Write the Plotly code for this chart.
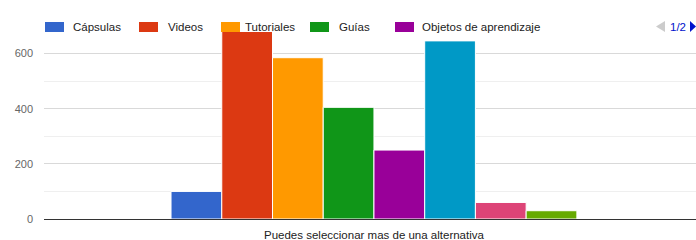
import plotly.graph_objects as go

category = "Puedes seleccionar mas de una alternativa"
series_names = ["Cápsulas", "Videos", "Tutoriales", "Guías", "Objetos de aprendizaje",
                "Serie 6", "Serie 7", "Serie 8"]
series_values = [100, 680, 585, 405, 250, 646, 60, 30]
series_colors = ["#3366cc", "#dc3912", "#ff9900", "#109618", "#990099",
                 "#0099c6", "#dd4477", "#66aa00"]
legend_on_page = 5  # legend page 1/2 shows the first five series
y_ticks = [0, 200, 400, 600]
y_minor = [100, 300, 500, 700]

W, H = 696, 240
L, R, T = 44, 0, 26
B = H - 219
pw, ph = W - L - R, H - T - B

def px_x(p):
    return (p - L) / pw

def px_y(p):
    return (H - B - p) / ph

fig = go.Figure()
for name, val, col in zip(series_names, series_values, series_colors):
    fig.add_trace(go.Bar(x=[category], y=[val], name=name,
                         marker=dict(color=col, line=dict(color="white", width=1)),
                         showlegend=False))

# custom legend (page 1/2)
sw_x = [45, 139, 221, 310, 395]
tx_x = [71, 166, 243, 337, 420]
shapes = []
annotations = []
for i in range(legend_on_page):
    shapes.append(dict(type="rect", xref="paper", yref="paper",
                       x0=px_x(sw_x[i]), x1=px_x(sw_x[i] + 19),
                       y0=px_y(32), y1=px_y(22),
                       fillcolor=series_colors[i], line=dict(width=0), layer="above"))
    annotations.append(dict(text=series_names[i], xref="paper", yref="paper",
                            x=px_x(tx_x[i]), y=px_y(26.5), xanchor="left", yanchor="middle",
                            showarrow=False, font=dict(family="Liberation Sans, Arial", size=11.5, color="#222222")))

def tri(points, color):
    path = "M " + " L ".join(f"{px_x(x)},{px_y(y)}" for x, y in points) + " Z"
    return dict(type="path", xref="paper", yref="paper", path=path,
                fillcolor=color, line=dict(width=0), layer="above")

shapes.append(tri([(665, 21), (665, 32), (656, 26.5)], "#cccccc"))
shapes.append(tri([(690, 21), (690, 32), (696, 26.5)], "#0011cc"))
annotations.append(dict(text="1/2", xref="paper", yref="paper", x=px_x(668), y=px_y(26.5),
                        xanchor="left", yanchor="middle", showarrow=False,
                        font=dict(family="Liberation Sans, Arial", size=11.5, color="#0011cc")))

fig.update_layout(
    width=W, height=H,
    margin=dict(l=L, r=R, t=T, b=B, pad=0, autoexpand=False),
    plot_bgcolor="white", paper_bgcolor="white",
    barmode="group", bargap=0.385, bargroupgap=0,
    shapes=shapes, annotations=annotations,
    font=dict(family="Liberation Sans, Arial", size=11, color="#222222"),
    showlegend=False,
)
fig.update_xaxes(range=[-0.5, 0.488], showgrid=False, showline=False, ticks="",
                 automargin=False, ticklabelstandoff=7,
                 tickfont=dict(size=11.5, color="#222222"), fixedrange=True)
fig.update_yaxes(range=[0, 700], tickvals=y_ticks, showgrid=True, gridcolor="#d9d9d9",
                 gridwidth=1, zeroline=True, zerolinecolor="#333333", zerolinewidth=1,
                 ticks="", ticklabelstandoff=10, automargin=False, fixedrange=True,
                 tickfont=dict(size=11, color="#666666"),
                 minor=dict(tickvals=y_minor, showgrid=True, gridcolor="#efefef", gridwidth=1))

fig.write_html("out.html", config={"displayModeBar": False},
               post_script="document.body.style.margin='0';document.body.style.overflow='hidden';")
